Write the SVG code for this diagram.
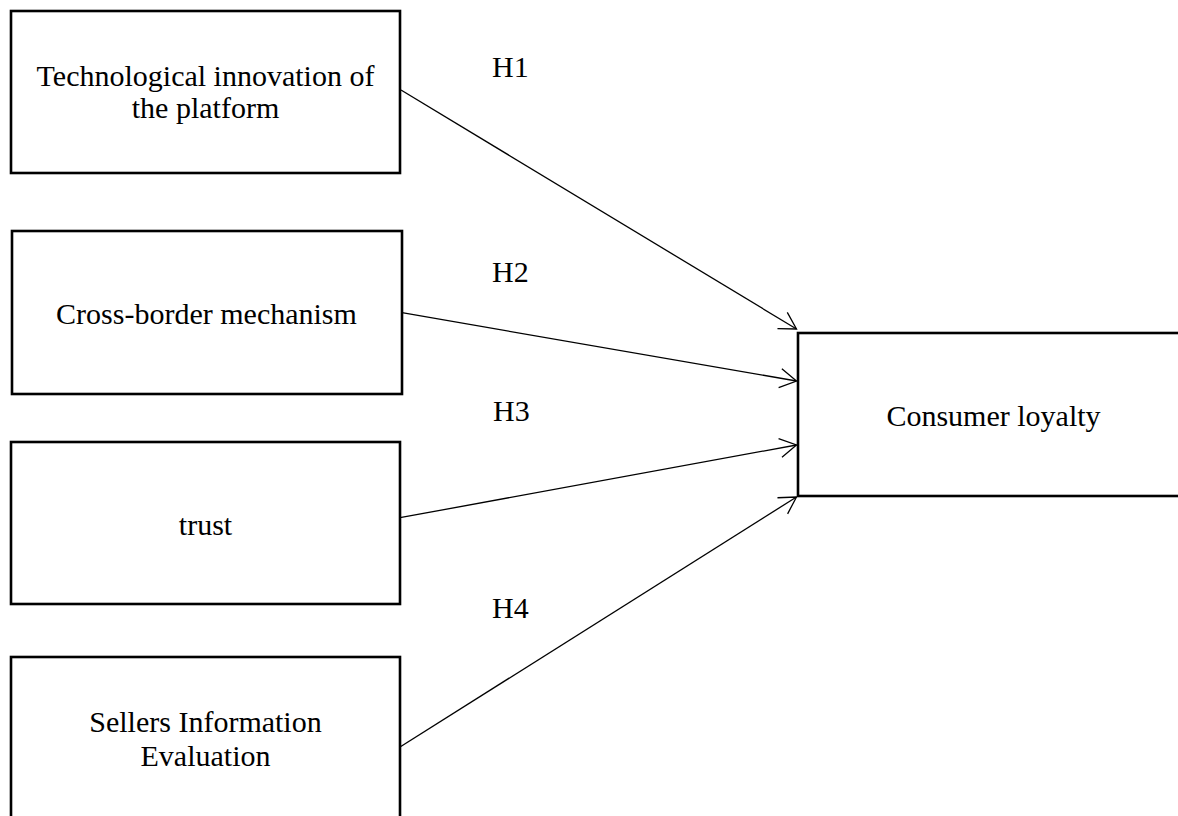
<svg xmlns="http://www.w3.org/2000/svg" width="1178" height="816" viewBox="0 0 1178 816">
  <style>
    .box { fill: #ffffff; stroke: #000000; stroke-width: 2.6; }
    .lbl { font-family: "Liberation Serif", "Times New Roman", serif; font-size: 30px; fill: #000000; text-anchor: middle; }
    .hl { font-family: "Liberation Serif", "Times New Roman", serif; font-size: 30px; fill: #000000; }
    .edge { fill: none; stroke: #000000; stroke-width: 1.3; }
  </style>
  <defs>
    <marker id="arrow" markerUnits="userSpaceOnUse" markerWidth="24" markerHeight="24" viewBox="-20 -12 24 24" refX="0" refY="0" orient="auto">
      <path d="M-16.5,-9.5 L0,0 L-16.5,9.5" fill="none" stroke="#000000" stroke-width="1.3"/>
    </marker>
  </defs>
  <rect width="1178" height="816" fill="#ffffff"/>

  <g id="node-tech">
    <rect class="box" x="11" y="11" width="389" height="162"/>
    <text class="lbl" x="205.5" y="86">Technological innovation of</text>
    <text class="lbl" x="205.5" y="118">the platform</text>
  </g>
  <g id="node-cross">
    <rect class="box" x="12" y="231" width="390" height="163"/>
    <text class="lbl" x="206.5" y="324">Cross-border mechanism</text>
  </g>
  <g id="node-trust">
    <rect class="box" x="11" y="442" width="389" height="162"/>
    <text class="lbl" x="205.5" y="535">trust</text>
  </g>
  <g id="node-sellers">
    <rect class="box" x="11" y="657" width="389" height="200"/>
    <text class="lbl" x="205.5" y="732">Sellers Information</text>
    <text class="lbl" x="205.5" y="766">Evaluation</text>
  </g>
  <g id="node-loyalty">
    <rect class="box" x="798" y="333" width="420" height="163"/>
    <text class="lbl" x="993.5" y="426">Consumer loyalty</text>
  </g>

  <g id="connectors">
    <line class="edge" x1="401" y1="90" x2="796.5" y2="329" marker-end="url(#arrow)"/>
    <line class="edge" x1="402" y1="312.7" x2="796.5" y2="381" marker-end="url(#arrow)"/>
    <line class="edge" x1="400" y1="517.7" x2="796.5" y2="445" marker-end="url(#arrow)"/>
    <line class="edge" x1="400" y1="747" x2="796.5" y2="497" marker-end="url(#arrow)"/>
  </g>

  <g id="labels">
    <text class="hl" x="492" y="77">H1</text>
    <text class="hl" x="492" y="282">H2</text>
    <text class="hl" x="493" y="421">H3</text>
    <text class="hl" x="492" y="618">H4</text>
  </g>
</svg>
